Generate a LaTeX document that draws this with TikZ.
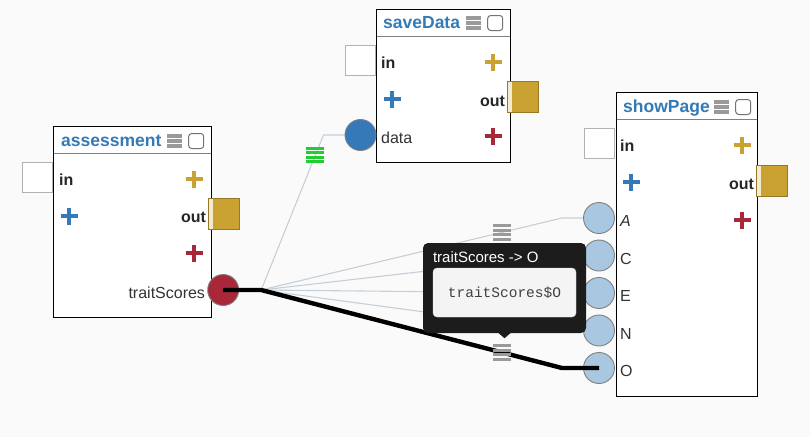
\documentclass[tikz,border=0pt]{standalone}
\usepackage{fontspec}
\setmainfont{Liberation Sans}
\setmonofont{Liberation Mono}
\usetikzlibrary{calc,positioning}
\definecolor{canvas}{HTML}{FAFAFA}
\definecolor{titleblue}{HTML}{337AB7}
\definecolor{portgold}{HTML}{C9A232}
\definecolor{palegold}{HTML}{F3EAD2}
\definecolor{portred}{HTML}{A8283A}
\definecolor{portblue}{HTML}{3579B8}
\definecolor{inblue}{HTML}{A9C7E1}
\definecolor{wiregray}{HTML}{C5CFD9}
\definecolor{menugray}{HTML}{9A9A9A}
\definecolor{menugreen}{HTML}{22CC33}
\definecolor{tipblack}{HTML}{1C1C1C}
\definecolor{tipbox}{HTML}{F4F4F4}
\pgfdeclarelayer{wires}
\pgfsetlayers{wires,main}
\tikzset
{
  module/.style={draw=black,line width=1.2pt,fill=white,anchor=north west,inner sep=0pt},
  headline/.style={draw=gray,line width=0.9pt},
  title/.style={font=\bfseries\fontsize{17.5}{17.5}\selectfont,text=titleblue,inner sep=0pt,anchor=base west},
  portlabel/.style={font=\bfseries\fontsize{16}{16}\selectfont,text=black!85,inner sep=0pt},
  sidelabel/.style={font=\fontsize{16}{16}\selectfont,text=black!80,inner sep=0pt},
  checkbox/.style={draw=gray!90!black,line width=1pt,rounded corners=3pt,minimum size=15pt,inner sep=0pt,fill=white},
  insquare/.style={draw=gray!60,line width=0.9pt,fill=white,minimum size=30pt,inner sep=0pt},
  outsquare/.style={draw=portgold!75!black,line width=0.7pt,fill=portgold,minimum size=31pt,inner sep=0pt},
  inport/.style={circle,draw=gray,line width=0.9pt,fill=inblue,minimum size=31pt,inner sep=0pt},
  wire/.style={draw=wiregray,line width=1.1pt},
  active/.style={draw=black,line width=4.4pt},
  tooltip/.style={fill=tipblack,rounded corners=5pt,minimum width=163pt,minimum height=90pt,inner sep=0pt},
  pics/plus/.style={code={\draw[line width=4.4pt,#1] (-8.5,0) -- (8.5,0) (0,-8.5) -- (0,8.5);}},
  pics/menu/.style={code={\foreach \dy in {-5,0,5} {\fill[menugray] (-7.5,\dy-1.8) rectangle (7.5,\dy+1.8);}}},
  pics/wiremenu/.style={code={\foreach \dy in {-6.6,-2.2,2.2,6.6} {\fill[#1] (-9,\dy-1.5) rectangle (9,\dy+1.5);}}}
}

\begin{document}
\begin{tikzpicture}[x=1pt,y=-1pt]
        % Canvas
        \begin{pgfonlayer}{wires}
          \fill[canvas] (0,0) rectangle (810,437);
        \end{pgfonlayer}
        \useasboundingbox (0,0) rectangle (810,437);

        % assessment
        \node[module,minimum width=158pt,minimum height=191pt] (assessment) at (53,126) {};
        \draw[headline] ($(assessment.north west)+(1,27)$) -- ($(assessment.north east)+(-1,27)$);
        \node[title] (asTitle) at ($(assessment.north west)+(8,20)$) {assessment};
        \pic at ($(assessment.north east)+(-38,15)$) {menu};
        \node[checkbox] (asCheck) at ($(assessment.north east)+(-16,15)$) {};
        \node[insquare] (asIn) at ($(assessment.north west)+(-15.5,51)$) {};
        \node[portlabel,anchor=base west] (asInLabel) at ($(assessment.north west)+(6,59)$) {in};
        \pic at ($(assessment.north east)+(-18,53)$) {plus=portgold};
        \pic at ($(assessment.north west)+(16,90)$) {plus=portblue};
        \node[portlabel,anchor=base east] (asOutLabel) at ($(assessment.north east)+(-6,96)$) {out};
        \node[outsquare] (asOut) at ($(assessment.north east)+(12,88)$) {};
        \fill[palegold] ($(asOut.north west)+(0.4,0.4)$) rectangle ($(asOut.south west)+(4.8,-0.4)$);
        \pic at ($(assessment.north east)+(-18,127)$) {plus=portred};
        \node[sidelabel,anchor=base east] (traitLabel) at ($(assessment.north east)+(-7,172)$) {traitScores};
        \node[inport,fill=portred] (trait) at ($(assessment.north east)+(11,164)$) {};

        % saveData
        \node[module,minimum width=134pt,minimum height=153pt] (saveData) at (376,9) {};
        \draw[headline] ($(saveData.north west)+(1,27)$) -- ($(saveData.north east)+(-1,27)$);
        \node[title] (sdTitle) at ($(saveData.north west)+(7,19)$) {saveData};
        \pic at ($(saveData.north east)+(-38,14)$) {menu};
        \node[checkbox] (sdCheck) at ($(saveData.north east)+(-16,14)$) {};
        \node[insquare] (sdIn) at ($(saveData.north west)+(-15.5,51)$) {};
        \node[portlabel,anchor=base west] (sdInLabel) at ($(saveData.north west)+(5,59)$) {in};
        \pic at ($(saveData.north east)+(-18,53)$) {plus=portgold};
        \pic at ($(saveData.north west)+(16,90)$) {plus=portblue};
        \node[portlabel,anchor=base east] (sdOutLabel) at ($(saveData.north east)+(-6,97)$) {out};
        \node[outsquare] (sdOut) at ($(saveData.north east)+(12,88)$) {};
        \fill[palegold] ($(sdOut.north west)+(0.4,0.4)$) rectangle ($(sdOut.south west)+(4.8,-0.4)$);
        \pic at ($(saveData.north east)+(-18,127)$) {plus=portred};
        \node[inport,fill=portblue] (dataIn) at ($(saveData.north west)+(-15.5,126)$) {};
        \node[sidelabel,anchor=base west] (dataLabel) at ($(saveData.north west)+(5,134)$) {data};

        % showPage
        \node[module,minimum width=141pt,minimum height=304pt] (showPage) at (616,92) {};
        \draw[headline] ($(showPage.north west)+(1,27)$) -- ($(showPage.north east)+(-1,27)$);
        \node[title] (spTitle) at ($(showPage.north west)+(7,20)$) {showPage};
        \pic at ($(showPage.north east)+(-37,15)$) {menu};
        \node[checkbox] (spCheck) at ($(showPage.north east)+(-15,15)$) {};
        \node[insquare] (spIn) at ($(showPage.north west)+(-16.5,51)$) {};
        \node[portlabel,anchor=base west] (spInLabel) at ($(showPage.north west)+(4,59)$) {in};
        \pic at ($(showPage.north east)+(-16,53)$) {plus=portgold};
        \pic at ($(showPage.north west)+(15,90)$) {plus=portblue};
        \node[portlabel,anchor=base east] (spOutLabel) at ($(showPage.north east)+(-4,97)$) {out};
        \node[outsquare] (spOut) at ($(showPage.north east)+(14,89)$) {};
        \fill[palegold] ($(spOut.north west)+(0.4,0.4)$) rectangle ($(spOut.south west)+(4.2,-0.4)$);
        \pic at ($(showPage.north east)+(-16,128)$) {plus=portred};
        \foreach \p/\lab [count=\i from 0] in {pA/\itshape A,pC/C,pE/E,pN/N,pO/O}
        {
          \node[inport] (\p) at ($(showPage.north west)+(-17,126+37.5*\i)$) {};
          \node[sidelabel,anchor=base west] (\p Label) at ($(\p)+(21,8.5)$) {\lab};
        }

        % Wires
        \coordinate (split) at ($(trait)+(38,0)$);
        \begin{pgfonlayer}{wires}
          \draw[wire] (split) -- ($(dataIn)+(-37,0)$) -- (dataIn);
          \foreach \p in {pA,pC,pE,pN}
            \draw[wire] (split) -- ($(\p)+(-37,0)$) -- (\p);
        \end{pgfonlayer}
        \path (split) -- ($(dataIn)+(-37,0)$) pic[pos=0.87] {wiremenu=menugreen};
        \path (split) -- ($(pA)+(-37,0)$) pic[pos=0.8] {wiremenu=menugray};
        \draw[active] (trait.center) -- (split) -- ($(pO)+(-37,0)$) -- (pO.center);
        \path (split) -- ($(pO)+(-37,0)$) pic[pos=0.8] {wiremenu=menugray};

        % Tooltip
        \node[tooltip] (tip) at (504.5,288) {};
        \fill[tipblack] ($(tip.south)+(-7,-1)$) -- ($(tip.south)+(7,-1)$) -- ($(tip.south)+(0,5)$) -- cycle;
        \node[font=\fontsize{15}{15}\selectfont,text=white,inner sep=0pt,anchor=base west] (tipTitle) at ($(tip.north west)+(10,20)$) {traitScores -> O};
        \node[fill=tipbox,draw=gray!30,rounded corners=4pt,minimum width=143pt,minimum height=49pt,inner sep=0pt,
              font=\ttfamily\fontsize{14.5}{14.5}\selectfont,text=black!75] (tipCode) at ($(tip.center)+(0,4.5)$) {traitScores\$O};
\end{tikzpicture}
\end{document}
